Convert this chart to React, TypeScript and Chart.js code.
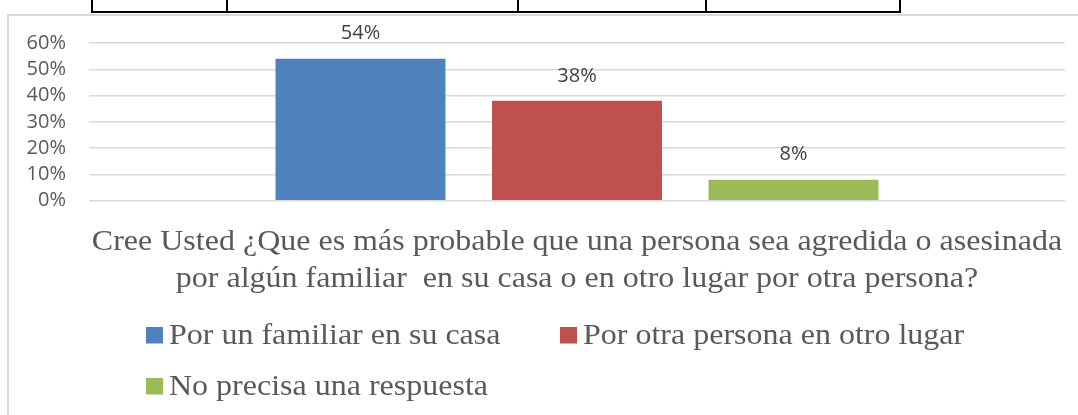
import React, { useEffect, useRef } from "react";
import { Chart, registerables } from "chart.js";

Chart.register(...registerables);

const categories: string[] = [""];
const seriesLabels: string[] = [
  "Por un familiar en su casa",
  "Por otra persona en otro lugar",
  "No precisa una respuesta",
];
const seriesValues: number[] = [0.54, 0.38, 0.08];
const seriesColors: string[] = ["#4F81BD", "#C0504D", "#9BBB59"];
const yTicks: number[] = [0, 0.1, 0.2, 0.3, 0.4, 0.5, 0.6];
const axisTitle: string[] = [
  "Cree Usted ¿Que es más probable que una persona sea agredida o asesinada",
  "por algún familiar  en su casa o en otro lugar por otra persona?",
];

const W = 1078;
const H = 415;
const TITLE_FONT = "30px 'Liberation Serif'";
const TITLE_STRETCH = 32 / 30;
const LEGEND_FONT = "29px 'Liberation Serif'";
const LEGEND_STRETCH = 32 / 29;

const pct = (v: number) => `${Math.round(v * 100)}%`;

function stretchedText(
  ctx: CanvasRenderingContext2D,
  text: string,
  x: number,
  y: number,
  align: CanvasTextAlign,
  stretch: number
) {
  ctx.save();
  ctx.translate(x, y);
  ctx.scale(stretch, 1);
  ctx.textAlign = align;
  ctx.fillText(text, 0, 0);
  ctx.restore();
}

const decorPlugin = {
  id: "decor",
  beforeDraw(chart: any) {
    const ctx = chart.ctx as CanvasRenderingContext2D;
    ctx.save();
    ctx.fillStyle = "#ffffff";
    ctx.fillRect(0, 0, chart.width, chart.height);
    // table fragment at top
    ctx.strokeStyle = "#000000";
    ctx.lineWidth = 2;
    ctx.beginPath();
    ctx.moveTo(92, 12);
    ctx.lineTo(901, 12);
    [92, 227, 518, 706, 900].forEach((x) => {
      ctx.moveTo(x, 0);
      ctx.lineTo(x, 13);
    });
    ctx.stroke();
    // chart frame
    ctx.strokeStyle = "#d9d9d9";
    ctx.lineWidth = 2;
    ctx.beginPath();
    ctx.moveTo(W, 15);
    ctx.lineTo(8, 15);
    ctx.lineTo(8, H);
    ctx.stroke();
    ctx.restore();
  },
  afterDatasetsDraw(chart: any) {
    const ctx = chart.ctx as CanvasRenderingContext2D;
    ctx.save();
    ctx.font = "20px 'Open Sans'";
    ctx.fillStyle = "#404040";
    ctx.textAlign = "center";
    ctx.textBaseline = "middle";
    chart.data.datasets.forEach((ds: any, i: number) => {
      const meta = chart.getDatasetMeta(i);
      meta.data.forEach((el: any, j: number) => {
        ctx.fillText(pct(ds.data[j]), el.x, el.y - 25);
      });
    });
    ctx.restore();
  },
  afterDraw(chart: any) {
    const ctx = chart.ctx as CanvasRenderingContext2D;
    const area = chart.chartArea;
    const cx = (area.left + area.right) / 2;
    ctx.save();
    ctx.font = TITLE_FONT;
    ctx.fillStyle = "#595959";
    ctx.textBaseline = "alphabetic";
    axisTitle.forEach((line, i) => {
      stretchedText(ctx, line, cx, 250 + i * 37, "center", TITLE_STRETCH);
    });

    const slots = [
      { x: 146, base: 344 },
      { x: 560, base: 344 },
      { x: 146, base: 395 },
    ];
    ctx.font = LEGEND_FONT;
    chart.data.datasets.forEach((ds: any, i: number) => {
      const s = slots[i];
      ctx.fillStyle = ds.backgroundColor;
      ctx.fillRect(s.x, s.base - 17, 17, 16.5);
      ctx.fillStyle = "#595959";
      stretchedText(ctx, ds.label, s.x + 23, s.base, "left", LEGEND_STRETCH);
    });
    ctx.restore();
  },
};

export default function App() {
  const ref = useRef<HTMLCanvasElement | null>(null);

  useEffect(() => {
    document.body.style.margin = "0";
    const canvas = ref.current;
    if (!canvas) return;
    const chart = new Chart(canvas, {
      type: "bar",
      data: {
        labels: categories,
        datasets: seriesLabels.map((label, i) => ({
          label,
          data: [seriesValues[i]],
          backgroundColor: seriesColors[i],
          borderWidth: 0,
          categoryPercentage: 0.6655,
          barPercentage: 0.785,
        })),
      },
      options: {
        animation: false,
        responsive: false,
        devicePixelRatio: 1,
        layout: { padding: { left: 8, right: 13, top: 43, bottom: 118.5 } },
        plugins: {
          legend: { display: false },
          tooltip: { enabled: false },
          title: { display: false },
        },
        scales: {
          x: {
            grid: { display: false },
            border: { display: false },
            ticks: { display: false },
            afterFit: (scale: any) => {
              scale.height = 95.8;
            },
          },
          y: {
            min: 0,
            max: 0.6,
            afterBuildTicks: (scale: any) => {
              scale.ticks = yTicks.map((v) => ({ value: v }));
            },
            ticks: {
              autoSkip: false,
              callback: (v: any) => pct(Number(v)),
              color: "#595959",
              font: { family: "'Open Sans'", size: 20 },
              padding: 23,
            },
            grid: { color: "#d9d9d9", lineWidth: 1.5, drawTicks: false },
            border: { display: false },
            afterFit: (scale: any) => {
              scale.width = 81;
            },
          },
        },
      },
      plugins: [decorPlugin],
    });
    return () => chart.destroy();
  }, []);

  return (
    <canvas
      ref={ref}
      width={W}
      height={H}
      style={{ display: "block", width: W, height: H }}
    />
  );
}
